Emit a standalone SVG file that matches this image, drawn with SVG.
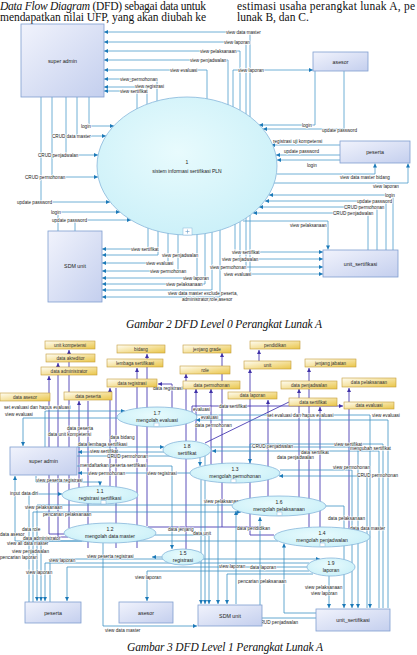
<svg xmlns="http://www.w3.org/2000/svg" width="417" height="655" viewBox="0 0 417 655">
<defs>
<linearGradient id="gE" x1="0" y1="0" x2="1" y2="1"><stop offset="0" stop-color="#f1f3fc"/><stop offset="1" stop-color="#c4cfee"/></linearGradient>
<linearGradient id="gS" x1="0" y1="0" x2="1" y2="1"><stop offset="0" stop-color="#fffdf3"/><stop offset="1" stop-color="#eac64a"/></linearGradient>
<radialGradient id="gP" cx="0.45" cy="0.4" r="0.7"><stop offset="0" stop-color="#e8fbfd"/><stop offset="1" stop-color="#c8eff8"/></radialGradient>
<marker id="mb" viewBox="0 0 10 10" refX="10" refY="5" markerWidth="5" markerHeight="4" orient="auto" markerUnits="userSpaceOnUse"><path d="M0,0L10,5L0,10z" fill="#1b79b8"/></marker>
<marker id="mp" viewBox="0 0 10 10" refX="10" refY="5" markerWidth="5" markerHeight="4" orient="auto" markerUnits="userSpaceOnUse"><path d="M0,0L10,5L0,10z" fill="#3f31a8"/></marker>
</defs>
<style>
.pg{font-family:"Liberation Serif",serif;font-size:11.5px;fill:#111}
.it{font-style:italic}
.ent rect{fill:url(#gE);stroke:#7f9fd0;stroke-width:.8}
.et{font-family:"Liberation Sans",sans-serif;font-size:5.3px;fill:#222;text-anchor:middle}
.prc ellipse{fill:url(#gP);stroke:#86b6da;stroke-width:.8}
.prc rect{fill:#fff;stroke:#86b6da;stroke-width:.5}
.pt{font-family:"Liberation Sans",sans-serif;font-size:5px;fill:#222;text-anchor:middle}
.st rect{fill:url(#gS);stroke:#c49c38;stroke-width:.6}
.stt{font-family:"Liberation Sans",sans-serif;font-size:4.6px;fill:#333;text-anchor:middle}
.c0 path{fill:none;stroke:#4b9dcb;stroke-width:.8;marker-end:url(#mb)}
.cb path{fill:none;stroke:#3c92c4;stroke-width:.8}
.cp path{fill:none;stroke:#4a3cb3;stroke-width:.9}
.cb path.a{marker-end:url(#mb)}
.cp path.ap{marker-end:url(#mp)}
.l0{font-family:"Liberation Sans",sans-serif;font-size:4.6px;fill:#222;stroke:#fff;stroke-width:1.3;paint-order:stroke;stroke-linejoin:round}
.l1{font-family:"Liberation Sans",sans-serif;font-size:4.7px;fill:#222;stroke:#fff;stroke-width:1;paint-order:stroke;stroke-linejoin:round}
</style>
<rect width="417" height="655" fill="#fff"/>

<g id="page-text">
<text class="pg" x="0" y="10" textLength="206" lengthAdjust="spacing"><tspan class="it">Data Flow Diagram</tspan> (DFD) sebagai data untuk</text>
<text class="pg" x="0" y="21" textLength="206" lengthAdjust="spacing">mendapatkan nilai UFP, yang akan diubah ke</text>
<text class="pg" x="237" y="10" textLength="178" lengthAdjust="spacing">estimasi usaha perangkat lunak A, pe</text>
<text class="pg" x="237" y="21">lunak B, dan C.</text>
<text class="pg it" x="126" y="328" font-size="12" textLength="196" lengthAdjust="spacing">Gambar 2 DFD Level 0 Perangkat Lunak A</text>
<text class="pg it" x="127" y="651" font-size="12" textLength="196" lengthAdjust="spacing">Gambar 3 DFD Level 1 Perangkat Lunak A</text>
</g>

<!-- LEVEL 0 -->
<g id="connectors-l0" class="c0">
<path d="M250,117V32H104"/><path d="M246,114V42H104"/><path d="M240,110V51H104"/><path d="M228,105V60H104"/>
<path d="M207,99V70H104"/><path d="M157,101V79H104"/><path d="M147,104V87H104"/><path d="M137,109V91H104"/>
<path d="M233,107V70H313"/>
<path d="M315,71V125H259"/><path d="M344,71V129H263"/>
<path d="M340,145H271"/><path d="M340,155H276"/><path d="M340,160H277"/>
<path d="M277,174H375V163.5"/><path d="M274,183H408V163.5"/>
<path d="M393,250V195H269"/><path d="M386,250V201H265"/><path d="M377,250V207H259"/><path d="M368,250V213H253"/>
<path d="M243,221H328V249.5"/>
<path d="M235,224V252H323"/><path d="M240,222V259H323"/><path d="M246,217V267H323"/><path d="M250,215V274H323"/>
<path d="M148,228V249H102"/><path d="M158,231V255H102"/><path d="M168,233V263H102"/><path d="M178,234V271H102"/>
<path d="M197,234V278H102"/><path d="M205,233V284H102"/><path d="M212,232V290H102"/><path d="M220,230V297H102"/>
<path d="M58,231V212H120"/><path d="M75,231V220H131"/>
<path d="M89,97V126H114"/><path d="M77,97V136H106"/><path d="M66,97V155H98"/><path d="M52,97V177H98"/><path d="M41,97V202H110"/>
<g>
<text class="l0" x="226" y="33.6">view data master</text>
<text class="l0" x="224" y="43.6">view laporan</text>
<text class="l0" x="200" y="52.6">view pelaksanaan</text>
<text class="l0" x="190" y="61.6">view penjadwalan</text>
<text class="l0" x="170" y="71.6">view evaluasi</text>
<text class="l0" x="120" y="80.6">view_permohonan</text>
<text class="l0" x="135" y="88.3">view registrasi</text>
<text class="l0" x="120" y="92.8">view sertifikat</text>
<text class="l0" x="238" y="71.6">view laporan</text>
<text class="l0" x="302" y="126.6">login</text>
<text class="l0" x="322" y="131.5">update password</text>
<text class="l0" x="273" y="143">registrasi uji kompetensi</text>
<text class="l0" x="284" y="153">update password</text>
<text class="l0" x="307" y="166.5">login</text>
<text class="l0" x="340" y="179">view data master bidang</text>
<text class="l0" x="373" y="188">view laporan</text>
<text class="l0" x="385" y="196.6">login</text>
<text class="l0" x="357" y="202.6">update password</text>
<text class="l0" x="344" y="208.6">CRUD permohonan</text>
<text class="l0" x="333" y="214.6">CRUD penjadwalan</text>
<text class="l0" x="290" y="227">view pelaksanaan</text>
<text class="l0" x="232" y="253.6">view sertifikat</text>
<text class="l0" x="222" y="260.6">view penjadwalan</text>
<text class="l0" x="210" y="268.6">view permohonan</text>
<text class="l0" x="224" y="275.6">view evaluasi</text>
<text class="l0" x="131" y="250.6">view sertifikat</text>
<text class="l0" x="162" y="256.6">view penjadwalan</text>
<text class="l0" x="146" y="264.6">view evaluasi</text>
<text class="l0" x="150" y="272.6">view permohonan</text>
<text class="l0" x="183" y="279.6">view laporan</text>
<text class="l0" x="166" y="285.6">view pelaksanaan</text>
<text class="l0" x="168" y="294.5">view data master exclude peserta,</text>
<text class="l0" x="182" y="301">administrator,role,asesor</text>
<text class="l0" x="51" y="213.6">login</text>
<text class="l0" x="52" y="221.6">update password</text>
<text class="l0" x="81" y="127.6">login</text>
<text class="l0" x="52" y="137.6">CRUD data master</text>
<text class="l0" x="38" y="156.6">CRUD penjadwalan</text>
<text class="l0" x="25" y="178.6">CRUD permohonan</text>
<text class="l0" x="17" y="203.6">update password</text>
</g>
</g>

<g id="n0-super-admin" class="ent"><rect x="21" y="24" width="83" height="73"/><text class="et" x="62.5" y="63">super admin</text></g>
<g id="n0-asesor" class="ent"><rect x="313" y="52" width="55" height="19"/><text class="et" x="340.5" y="63.5">asesor</text></g>
<g id="n0-peserta" class="ent"><rect x="340" y="141" width="70" height="22"/><text class="et" x="375" y="154">peserta</text></g>
<g id="n0-unit-sertifikasi" class="ent"><rect x="323" y="250" width="75" height="27"/><text class="et" x="360.5" y="265.5">unit_sertifikasi</text></g>
<g id="n0-sdm-unit" class="ent"><rect x="48" y="231" width="54" height="71"/><text class="et" x="75" y="268">SDM unit</text></g>
<g id="n0-process-1" class="prc"><ellipse cx="187" cy="166" rx="90" ry="69"/><text class="pt" x="187" y="164">1</text><text class="pt" x="187" y="172.5">sistem informasi sertifikasi PLN</text>
<rect x="183" y="228" width="9" height="7"/><path d="M187.5,229.5V233.5M185.5,231.5H189.5" stroke="#6a9cc8" stroke-width=".6"/></g>

<!-- LEVEL 1 -->
<g id="connectors-l1">
<g class="cp">
<path class="ap" d="M64,534H49V376"/><path class="ap" d="M68,537H58V363"/><path class="ap" d="M69,528V350"/>
<path class="ap" d="M79,488V401"/><path d="M88,548V401"/><path class="ap" d="M110,486V388"/><path d="M116,548V388"/>
<path class="ap" d="M147,526V354"/><path class="ap" d="M137,548V368"/><path class="ap" d="M186,549V374"/>
<path class="ap" d="M196,441V389"/><path class="ap" d="M211,464V389"/><path class="ap" d="M222,527V353"/>
<path class="ap" d="M274,535H250V369"/><path class="ap" d="M259,361V350"/><path class="ap" d="M268,496V400"/>
<path class="ap" d="M299,497V389"/><path class="ap" d="M309,527V368"/><path class="ap" d="M320,527V407"/><path class="ap" d="M349,529V388"/>
<path d="M289,402L205,443"/><path class="ap" d="M192,412V406H343"/><path class="ap" d="M172,408V384H158"/>
<path d="M148,527H262"/>
</g>
<g class="cb">
<path class="a" d="M117,418H23V446"/><path class="a" d="M45,447V411H125"/>
<path class="a" d="M196,415H370V608"/><path class="a" d="M388,608V420H196"/>
<path class="a" d="M77,447H164"/><path class="a" d="M164,452H78"/><path class="a" d="M77,456H200V466"/>
<path class="a" d="M77,466H172V549"/><path class="a" d="M190,473H78"/><path class="a" d="M36,476V482H100V485.5"/>
<path class="a" d="M29,602V494H62"/><path class="a" d="M232,505H37V601"/><path class="a" d="M33,602V512H241"/>
<path class="a" d="M278,541H41V601"/><path class="a" d="M50,602V559H320"/>
<path class="a" d="M309,563H45V601"/><path class="a" d="M307,567H67V601"/><path class="a" d="M309,571H147V601"/>
<path class="a" d="M313,574H227V604"/><path class="a" d="M201,480V604"/><path class="a" d="M205,456V604"/>
<path class="a" d="M155,535H209V604"/><path class="a" d="M236,604V511"/><path class="a" d="M238,501H218V604"/>
<path class="a" d="M329,576V608"/><path class="a" d="M326,506H344V608"/><path class="a" d="M211,447H358V608"/>
<path class="a" d="M379,608V451H212"/><path class="a" d="M280,470H352V608"/><path class="a" d="M367,608V476H279"/>
<path class="a" d="M383,608V444H250V463"/><path class="a" d="M316,618H260V517"/><path class="a" d="M316,613H284V543.5"/>
<path class="a" d="M103,543V626H197"/><path class="a" d="M82,541H15V476"/><path class="a" d="M162,557H152"/>
</g>
<g>
<text class="l1" x="4" y="408.5">set evaluasi dan hapus evaluasi</text>
<text class="l1" x="5" y="415.5">view evaluasi</text>
<text class="l1" x="153" y="389.5">data registrasi</text>
<text class="l1" x="193" y="411.3">evaluasi</text>
<text class="l1" x="201" y="418.8">evaluasi</text>
<text class="l1" x="195" y="426.5">data permohonan</text>
<text class="l1" x="67" y="430">data peserta</text>
<text class="l1" x="48" y="436">data unit kompetensi</text>
<text class="l1" x="110" y="438.5">data bidang</text>
<text class="l1" x="219" y="407.5">data sertifikat</text>
<text class="l1" x="267" y="416.5">set evaluasi dan hapus evaluasi</text>
<text class="l1" x="372" y="416.5">view evaluasi</text>
<text class="l1" x="78" y="445.5">data lembaga sertifikasi</text>
<text class="l1" x="90" y="452.8">view sertifikat</text>
<text class="l1" x="107" y="457.5">CRUD permohonan</text>
<text class="l1" x="80" y="467">mendaftarkan peserta sertifikasi</text>
<text class="l1" x="88" y="474.6">view permohonan</text>
<text class="l1" x="147" y="474.6">view registrasi</text>
<text class="l1" x="36" y="482">view peserta registrasi</text>
<text class="l1" x="10" y="494.5">input data diri</text>
<text class="l1" x="25" y="508.5">view pelaksanaan</text>
<text class="l1" x="43" y="516">pencarian pelaksanaan</text>
<text class="l1" x="252" y="447.5">CRUD penjadwalan</text>
<text class="l1" x="334" y="445.5">view sertifikat</text>
<text class="l1" x="350" y="450">mengubah sertifikat</text>
<text class="l1" x="301" y="454">data sertifikat</text>
<text class="l1" x="277" y="459">data penjadwalan</text>
<text class="l1" x="333" y="468.5">view permohonan</text>
<text class="l1" x="357" y="476.5">CRUD permohonan</text>
<text class="l1" x="204" y="502.6">view pelaksanaan</text>
<text class="l1" x="328" y="520">data pelaksanaan</text>
<text class="l1" x="350" y="530">data data master</text>
<text class="l1" x="237" y="530">data pendidikan</text>
<text class="l1" x="168" y="531">data jenjang</text>
<text class="l1" x="193" y="534.5">data unit</text>
<text class="l1" x="22" y="531">data role</text>
<text class="l1" x="0" y="535.5">data asesor</text>
<text class="l1" x="23" y="540">data administrator</text>
<text class="l1" x="7" y="544.5">view all data master</text>
<text class="l1" x="12" y="553">view penjadwalan</text>
<text class="l1" x="0" y="559">pencarian laporan</text>
<text class="l1" x="49" y="562">view laporan</text>
<text class="l1" x="87" y="558">view peserta registrasi</text>
<text class="l1" x="26" y="573.5">view laporan</text>
<text class="l1" x="135" y="578.5">view laporan</text>
<text class="l1" x="219" y="568">view laporan</text>
<text class="l1" x="250" y="568.5">data laporan</text>
<text class="l1" x="238" y="582.5">pencarian pelaksanaan</text>
<text class="l1" x="305" y="588.5">view pelaksanaan</text>
<text class="l1" x="311" y="594.5">view laporan</text>
<text class="l1" x="257" y="623.5">CRUD penjadwalan</text>
<text class="l1" x="105" y="631.5">view data master</text>
</g>
</g>

<g id="stores-l1" class="st">
<g id="s-unit-kompetensi"><rect x="45" y="341" width="50" height="8"/><text class="stt" x="70" y="346.7">unit kompetensi</text></g>
<g id="s-bidang"><rect x="117" y="345" width="48" height="8"/><text class="stt" x="141" y="350.7">bidang</text></g>
<g id="s-jenjang-grade"><rect x="183" y="345" width="48" height="8"/><text class="stt" x="207" y="350.7">jenjang grade</text></g>
<g id="s-pendidikan"><rect x="250" y="341" width="50" height="8"/><text class="stt" x="275" y="346.7">pendidikan</text></g>
<g id="s-data-akreditor"><rect x="46" y="354" width="49" height="8"/><text class="stt" x="70.5" y="359.7">data akreditor</text></g>
<g id="s-lembaga-sertifikasi"><rect x="107" y="359" width="56" height="8"/><text class="stt" x="135" y="364.7">lembaga sertifikasi</text></g>
<g id="s-jenjang-jabatan"><rect x="305" y="359" width="51" height="8"/><text class="stt" x="330.5" y="364.7">jenjang jabatan</text></g>
<g id="s-data-administrator"><rect x="41" y="367" width="56" height="8"/><text class="stt" x="69" y="372.7">data administrator</text></g>
<g id="s-unit"><rect x="244" y="361" width="47" height="8"/><text class="stt" x="267.5" y="366.7">unit</text></g>
<g id="s-role"><rect x="180" y="366" width="50" height="8"/><text class="stt" x="205" y="371.7">role</text></g>
<g id="s-data-registrasi"><rect x="107" y="379" width="50" height="8"/><text class="stt" x="132" y="384.7">data registrasi</text></g>
<g id="s-data-permohonan"><rect x="183" y="381" width="57" height="8"/><text class="stt" x="211.5" y="386.7">data permohonan</text></g>
<g id="s-data-penjadwalan"><rect x="281" y="381" width="56" height="8"/><text class="stt" x="309" y="386.7">data penjadwalan</text></g>
<g id="s-data-pelaksanaan"><rect x="342" y="378" width="54" height="9"/><text class="stt" x="369" y="384.2">data pelaksanaan</text></g>
<g id="s-data-asesor"><rect x="0" y="393" width="50" height="8"/><text class="stt" x="25" y="398.7">data asesor</text></g>
<g id="s-data-peserta"><rect x="64" y="392" width="48" height="8"/><text class="stt" x="88" y="397.7">data peserta</text></g>
<g id="s-data-laporan"><rect x="228" y="392" width="49" height="7"/><text class="stt" x="252.5" y="397.2">data laporan</text></g>
<g id="s-data-sertifikat"><rect x="289" y="398" width="48" height="8"/><text class="stt" x="313" y="403.7">data sertifikat</text></g>
<g id="s-data-evaluasi"><rect x="344" y="402" width="50" height="7"/><text class="stt" x="369" y="407.2">data evaluasi</text></g>
</g>

<g id="p-1-7" class="prc"><ellipse cx="157" cy="417" rx="40" ry="10"/><text class="pt" x="157" y="414.5">1.7</text><text class="pt" x="157" y="421.5">mengolah evaluasi</text><rect x="154" y="423" width="5" height="3.5"/></g>
<g id="p-1-8" class="prc"><ellipse cx="187" cy="450" rx="24" ry="9"/><text class="pt" x="187" y="447.5">1.8</text><text class="pt" x="187" y="454.5">sertifikat</text></g>
<g id="p-1-3" class="prc"><ellipse cx="235" cy="473" rx="45" ry="10"/><text class="pt" x="235" y="470.5">1.3</text><text class="pt" x="235" y="477.5">mengolah permohonan</text><rect x="231" y="479" width="5" height="3.5"/></g>
<g id="p-1-1" class="prc"><ellipse cx="100" cy="495" rx="38" ry="9"/><text class="pt" x="100" y="492.5">1.1</text><text class="pt" x="100" y="499.5">registrasi sertifikasi</text><rect x="101" y="500.5" width="5" height="3.5"/></g>
<g id="p-1-6" class="prc"><ellipse cx="279" cy="506" rx="47" ry="10"/><text class="pt" x="279" y="503.5">1.6</text><text class="pt" x="279" y="510.5">mengolah pelaksanaan</text><rect x="277" y="512" width="5" height="3.5"/></g>
<g id="p-1-2" class="prc"><ellipse cx="110" cy="533" rx="46" ry="10"/><text class="pt" x="110" y="530.5">1.2</text><text class="pt" x="110" y="537.5">mengolah data master</text></g>
<g id="p-1-4" class="prc"><ellipse cx="322" cy="537" rx="48" ry="10"/><text class="pt" x="322" y="534.5">1.4</text><text class="pt" x="322" y="541.5">mengolah penjadwalan</text><rect x="320" y="543" width="5" height="3.5"/></g>
<g id="p-1-5" class="prc"><ellipse cx="183" cy="557" rx="21" ry="8"/><text class="pt" x="183" y="555">1.5</text><text class="pt" x="183" y="561.5">registrasi</text></g>
<g id="p-1-9" class="prc"><ellipse cx="331" cy="567" rx="24" ry="9"/><text class="pt" x="331" y="564.5">1.9</text><text class="pt" x="331" y="571.5">laporan</text></g>

<g id="n1-super-admin" class="ent"><rect x="10" y="447" width="67" height="28"/><text class="et" x="43.5" y="463">super admin</text></g>
<g id="n1-peserta" class="ent"><rect x="25" y="602" width="56" height="21"/><text class="et" x="53" y="614.5">peserta</text></g>
<g id="n1-asesor" class="ent"><rect x="119" y="602" width="54" height="21"/><text class="et" x="146" y="614.5">asesor</text></g>
<g id="n1-sdm-unit" class="ent"><rect x="198" y="605" width="64" height="21"/><text class="et" x="230" y="617.5">SDM unit</text></g>
<g id="n1-unit-sertifikasi" class="ent"><rect x="316" y="609" width="74" height="22"/><text class="et" x="353" y="621.5">unit_sertifikasi</text></g>
</svg>
